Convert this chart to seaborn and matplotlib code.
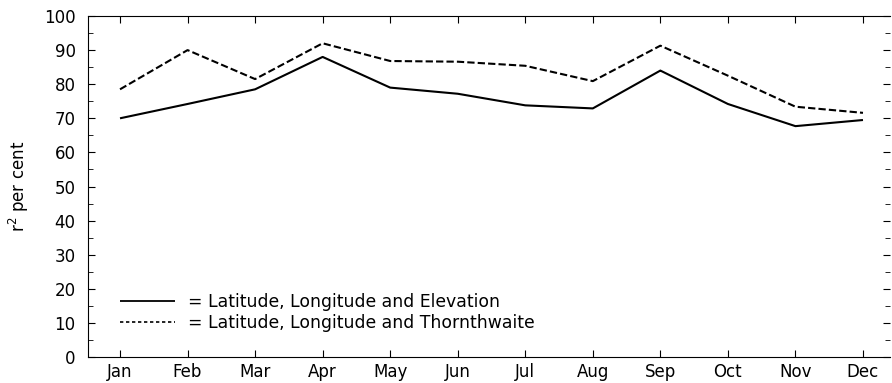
import matplotlib
matplotlib.use("Agg")
import matplotlib.pyplot as plt
import seaborn as sns
import pandas as pd
from matplotlib.ticker import MultipleLocator

months = ["Jan", "Feb", "Mar", "Apr", "May", "Jun", "Jul", "Aug", "Sep", "Oct", "Nov", "Dec"]
elevation = [70.0, 74.2, 78.5, 88.0, 79.0, 77.2, 73.8, 72.9, 84.0, 74.2, 67.7, 69.5]
thornthwaite = [78.5, 90.0, 81.5, 92.0, 86.8, 86.6, 85.4, 80.9, 91.3, 82.5, 73.4, 71.6]
labels = ["= Latitude, Longitude and Elevation", "= Latitude, Longitude and Thornthwaite"]

df = pd.DataFrame({
    "x": list(range(len(months))) * 2,
    "value": elevation + thornthwaite,
    "series": [labels[0]] * len(months) + [labels[1]] * len(months),
})

sns.set_theme(style="white")
plt.rcParams['font.family'] = ['DejaVu Sans']
plt.rcParams['mathtext.fontset'] = 'dejavusans'
plt.rcParams['text.color'] = 'black'
plt.rcParams['axes.labelcolor'] = 'black'

fig = plt.figure(figsize=(8.92, 3.83), dpi=100)
ax = fig.add_axes([88/892, 1 - 357/383, (890-88)/892, (357-16)/383])

sns.lineplot(data=df, x="x", y="value", style="series", color="black",
             dashes={labels[0]: (1, 0), labels[1]: (3.5, 1.5)},
             linewidth=1.5, ax=ax, legend=True)

ax.set_xlim(-0.474, 11.40)
ax.set_ylim(0, 100)
ax.set_xticks(range(len(months)))
ax.set_xticklabels(months)
ax.yaxis.set_major_locator(MultipleLocator(10))
ax.yaxis.set_minor_locator(MultipleLocator(5))
ax.tick_params(axis="both", which="both", direction="in", colors="black",
               labelsize=12, top=True, right=True, left=True, bottom=True)
ax.tick_params(axis="x", which="major", length=5, width=0.8, pad=4, labeltop=False)
ax.tick_params(axis="y", which="major", length=5, width=0.8, pad=9)
ax.tick_params(axis="y", which="minor", length=3.5, width=0.6, left=True, right=True)
for s in ["left", "bottom", "top"]:
    ax.spines[s].set_visible(True)
    ax.spines[s].set_color("black")
    ax.spines[s].set_linewidth(0.8)
ax.spines["right"].set_visible(False)

ax.set_xlabel("")
ax.set_ylabel("r$^2$ per cent", fontsize=12, color="black")
ax.yaxis.set_label_coords((31 - 88) / 802, 0.5)

leg = ax.legend(loc="upper left", bbox_to_anchor=((120 - 88) / 802, (357 - 293) / 341),
                bbox_transform=ax.transAxes, frameon=False, borderpad=0, borderaxespad=0,
                fontsize=12.4, handlelength=3.2, handletextpad=0.76, labelspacing=0.2)
for t in leg.get_texts():
    t.set_color("black")
lines = leg.get_lines()
lines[0].set_linewidth(1.3)
lines[1].set_linewidth(1.2)
lines[1].set_dashes((2.0, 1.6))

fig.savefig("out.png", dpi=100)
